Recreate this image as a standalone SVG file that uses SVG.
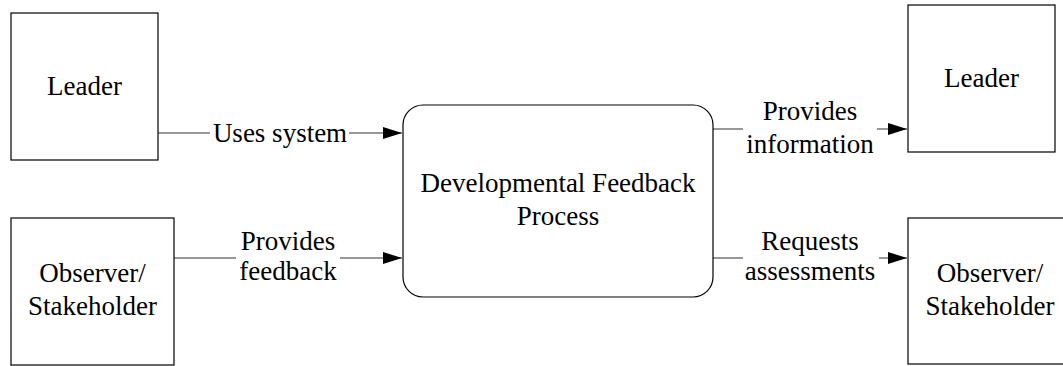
<svg xmlns="http://www.w3.org/2000/svg" width="1063" height="366" viewBox="0 0 1063 366">
<style>
.box{fill:#fff;stroke:#000;stroke-width:1.2}
.t{font-size:27px;fill:#000;text-anchor:middle}
.c{fill:none;stroke:#333;stroke-width:1.2}
</style>
<defs>
<marker id="ah" markerUnits="userSpaceOnUse" markerWidth="20" markerHeight="12" refX="19" refY="6" orient="auto">
<path d="M0,0 L19,6 L0,12 Z" fill="#000"/>
</marker>
</defs>
<rect width="1063" height="366" fill="#fff"/>
<g font-family="Liberation Serif, DejaVu Serif, serif">
<g id="connectors">
<path class="c" d="M158,133 H210 M349,133 H402" marker-end="url(#ah)"/>
<path class="c" d="M174,258 H236 M340,258 H402" marker-end="url(#ah)"/>
<path class="c" d="M713,129 H743 M877,129 H907" marker-end="url(#ah)"/>
<path class="c" d="M713,258 H743 M879,258 H907" marker-end="url(#ah)"/>
<text class="t" x="280" y="142">Uses system</text>
<text class="t" x="288" y="250">Provides</text>
<text class="t" x="288" y="280">feedback</text>
<text class="t" x="810" y="120">Provides</text>
<text class="t" x="810" y="153">information</text>
<text class="t" x="810" y="250">Requests</text>
<text class="t" x="810" y="280">assessments</text>
</g>
<g id="leader-left">
<rect class="box" x="11" y="13" width="147" height="147"/>
<text class="t" x="84.5" y="95">Leader</text>
</g>
<g id="observer-left">
<rect class="box" x="11" y="218" width="163" height="147"/>
<text class="t" x="92.5" y="282">Observer/</text>
<text class="t" x="92.5" y="315">Stakeholder</text>
</g>
<g id="process">
<rect class="box" x="403" y="105" width="310" height="192" rx="20" ry="20"/>
<text class="t" x="558" y="192">Developmental Feedback</text>
<text class="t" x="558" y="225">Process</text>
</g>
<g id="leader-right">
<rect class="box" x="908" y="5" width="147" height="147"/>
<text class="t" x="981.5" y="87">Leader</text>
</g>
<g id="observer-right">
<rect class="box" x="908" y="218" width="164" height="146"/>
<text class="t" x="990" y="282">Observer/</text>
<text class="t" x="990" y="315">Stakeholder</text>
</g>
</g>
</svg>
